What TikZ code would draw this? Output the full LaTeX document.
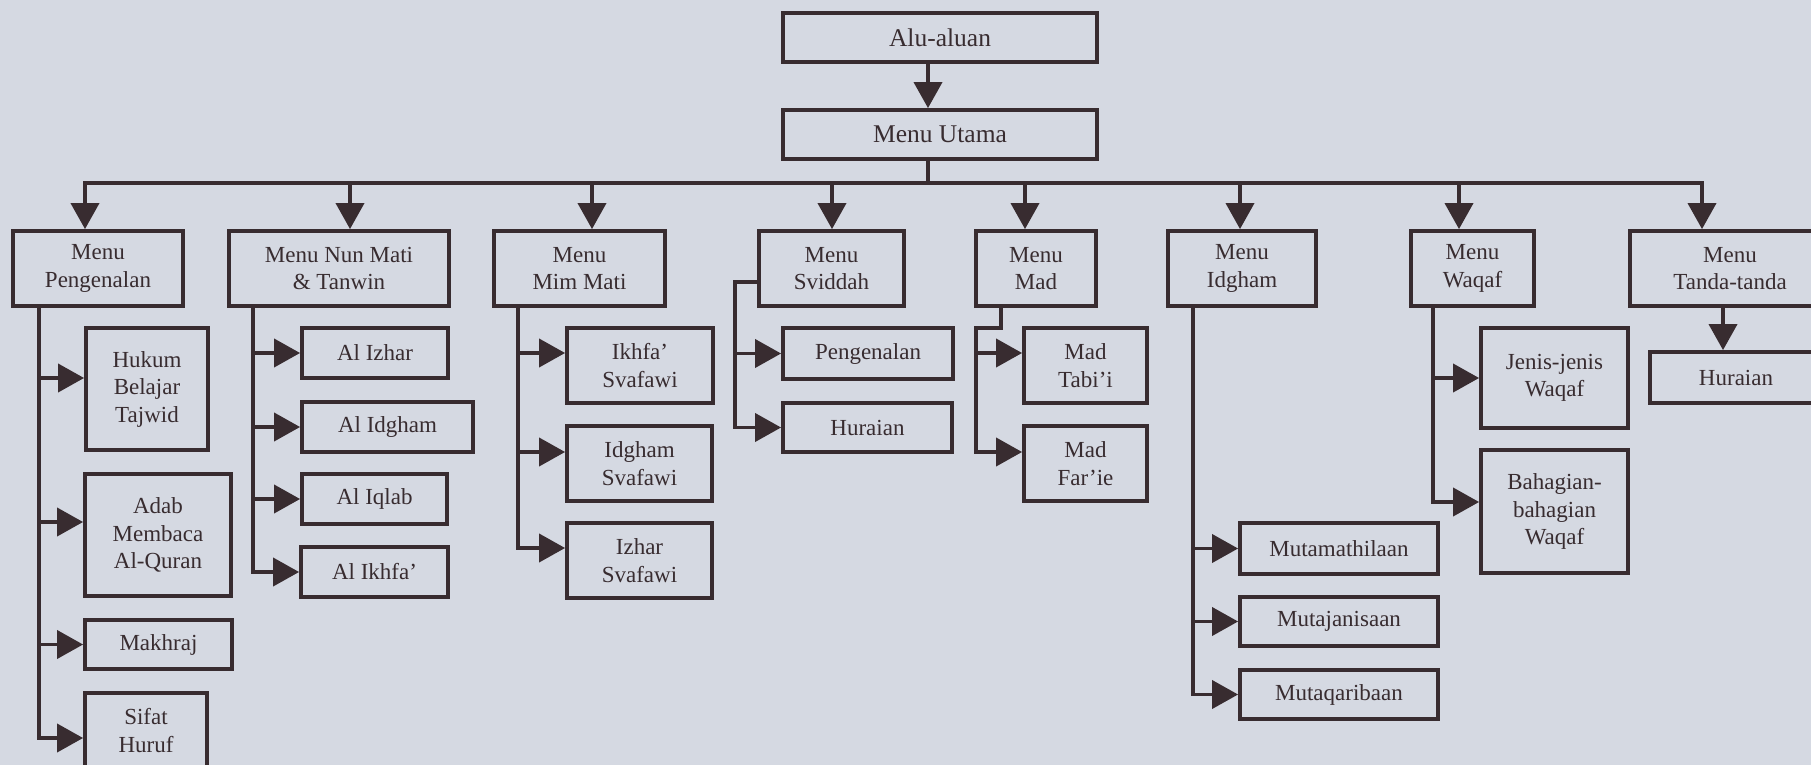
\documentclass[tikz,border=0pt]{standalone}
\usepackage{fontspec}
\setmainfont{Liberation Serif}
\usetikzlibrary{arrows.meta}
\definecolor{bgc}{RGB}{213,217,226}
\definecolor{ink}{RGB}{56,44,48}
\tikzset{
  ln/.style={draw=ink, line width=3.8pt},
  trunk/.style={ln, line cap=rect},
  arr/.style={ln, -{Triangle[length=26pt,width=28pt]}},
  box/.style={draw=ink, line width=3.8pt, text=ink, align=center, inner sep=2pt,
              font=\fontsize{23}{27.5}\selectfont},
  bigbox/.style={box, font=\fontsize{25.5}{30}\selectfont},
}
\newcommand\bx[7][box]{%
  \pgfmathsetmacro\bxw{#5-#3}\pgfmathsetmacro\bxh{#6-#4}%
  \pgfmathsetmacro\bxx{(#3+#5)/2}\pgfmathsetmacro\bxy{(#4+#6)/2}%
  \node[#1, minimum width=\bxw pt, minimum height=\bxh pt] (#2) at (\bxx,\bxy) {#7};}
\newcommand\harr[3]{%
  \coordinate (#2A) at ([yshift=#3]#2.west);
  \draw[arr] (#2A -| #1) -- (#2A);}
\begin{document}
\begin{tikzpicture}[x=1pt,y=-1pt]
\useasboundingbox (0,0) rectangle (1811,765);
\fill[bgc] (0,0) rectangle (1811,765);
\clip (0,0) rectangle (1811,765);

% top
\bx[bigbox]{alu}{783}{13}{1097}{62}{Alu-aluan}
\bx[bigbox]{utama}{783}{110}{1097}{159}{Menu Utama}

% level 1
\bx{pen}{13}{231}{183}{306}{Menu\\Pengenalan}
\bx{nun}{229}{231}{449}{306}{Menu Nun Mati\\\& Tanwin}
\bx{mim}{494}{231}{665}{306}{Menu\\Mim Mati}
\bx{svi}{759}{231}{904}{306}{Menu\\Sviddah}
\bx{mad}{976}{231}{1096}{306}{Menu\\Mad}
\bx{idg}{1168}{231}{1316}{306}{Menu\\Idgham}
\bx{waq}{1411}{231}{1534}{306}{Menu\\Waqaf}
\bx{tan}{1630}{231}{1830}{306}{Menu\\Tanda-tanda}

% level 2
\bx{huk}{86}{328}{208}{450}{Hukum\\Belajar\\Tajwid}
\bx{adab}{85}{474}{231}{596}{Adab\\Membaca\\Al-Quran}
\bx{makh}{85}{620}{232}{669}{Makhraj}
\bx{sif}{85}{693}{207}{768}{Sifat\\Huruf}

\bx{izh}{302}{328}{448}{378}{Al Izhar}
\bx{idgh}{302}{402}{473}{452}{Al Idgham}
\bx{iql}{302}{474}{447}{524}{Al Iqlab}
\bx{ikh}{301}{547}{448}{597}{Al Ikhfa'}

\bx{iks}{567}{328}{713}{403}{Ikhfa'\\Svafawi}
\bx{ids}{567}{426}{712}{501}{Idgham\\Svafawi}
\bx{izs}{567}{523}{712}{598}{Izhar\\Svafawi}

\bx{spen}{783}{328}{953}{379}{Pengenalan}
\bx{shur}{783}{403}{952}{452}{Huraian}

\bx{tab}{1024}{328}{1147}{403}{Mad\\Tabi'i}
\bx{far}{1024}{426}{1147}{501}{Mad\\Far'ie}

\bx{mtm}{1240}{523}{1438}{574}{Mutamathilaan}
\bx{mtj}{1240}{597}{1438}{646}{Mutajanisaan}
\bx{mtq}{1240}{670}{1438}{719}{Mutaqaribaan}

\bx{jen}{1481}{328}{1628}{428}{Jenis-jenis\\Waqaf}
\bx{bah}{1481}{450}{1628}{573}{Bahagian-\\bahagian\\Waqaf}

\bx{thur}{1650}{352}{1822}{403}{Huraian}

% top connectors
\coordinate (bm) at (928,183);
\draw[arr] (alu.south -| bm) -- (utama.north -| bm);
\draw[trunk] (utama.south -| bm) -- (bm);

% bus
\coordinate (b1) at (85,183);
\coordinate (b2) at (350,183);
\coordinate (b3) at (592,183);
\coordinate (b4) at (832,183);
\coordinate (b5) at (1025,183);
\coordinate (b6) at (1240,183);
\coordinate (b7) at (1459,183);
\coordinate (b8) at (1702,183);
\draw[trunk] (b1) -- (b8);
\foreach \c/\n in {b1/pen,b2/nun,b3/mim,b4/svi,b5/mad,b6/idg,b7/waq,b8/tan}
  \draw[arr] (\c) -- (\c |- \n.north);

% trunks
\coordinate (t1) at (39,0);
\coordinate (t2) at (253,0);
\coordinate (t3) at (518,0);
\coordinate (t4) at (735,0);
\coordinate (t5) at (976,328);
\coordinate (t6) at (1193,0);
\coordinate (t7) at (1433,0);
\coordinate (t8) at (1723,0);

% Pengenalan
\harr{t1}{huk}{11pt}
\harr{t1}{adab}{13pt}
\harr{t1}{makh}{0pt}
\harr{t1}{sif}{-7.5pt}
\draw[trunk] (pen.south -| t1) -- (sifA -| t1);

% Nun Mati
\harr{t2}{izh}{0pt}
\harr{t2}{idgh}{0pt}
\harr{t2}{iql}{0pt}
\harr{t2}{ikh}{0pt}
\draw[trunk] (nun.south -| t2) -- (ikhA -| t2);

% Mim Mati
\harr{t3}{iks}{12.5pt}
\harr{t3}{ids}{11.5pt}
\harr{t3}{izs}{12.5pt}
\draw[trunk] (mim.south -| t3) -- (izsA -| t3);

% Sviddah
\harr{t4}{spen}{0pt}
\harr{t4}{shur}{0pt}
\draw[trunk] ([yshift=-13.5pt]svi.west) -| (shurA -| t4);

% Mad
\harr{t5}{tab}{12.5pt}
\harr{t5}{far}{11.5pt}
\draw[trunk] ([xshift=-35pt]mad.south) |- (t5) -- (farA -| t5);

% Idgham
\harr{t6}{mtm}{0pt}
\harr{t6}{mtj}{0pt}
\harr{t6}{mtq}{0pt}
\draw[trunk] (idg.south -| t6) -- (mtqA -| t6);

% Waqaf
\harr{t7}{jen}{0pt}
\harr{t7}{bah}{9.5pt}
\draw[trunk] (waq.south -| t7) -- (bahA -| t7);

% Tanda-tanda
\draw[arr] (tan.south -| t8) -- (thur.north -| t8);
\end{tikzpicture}
\end{document}
